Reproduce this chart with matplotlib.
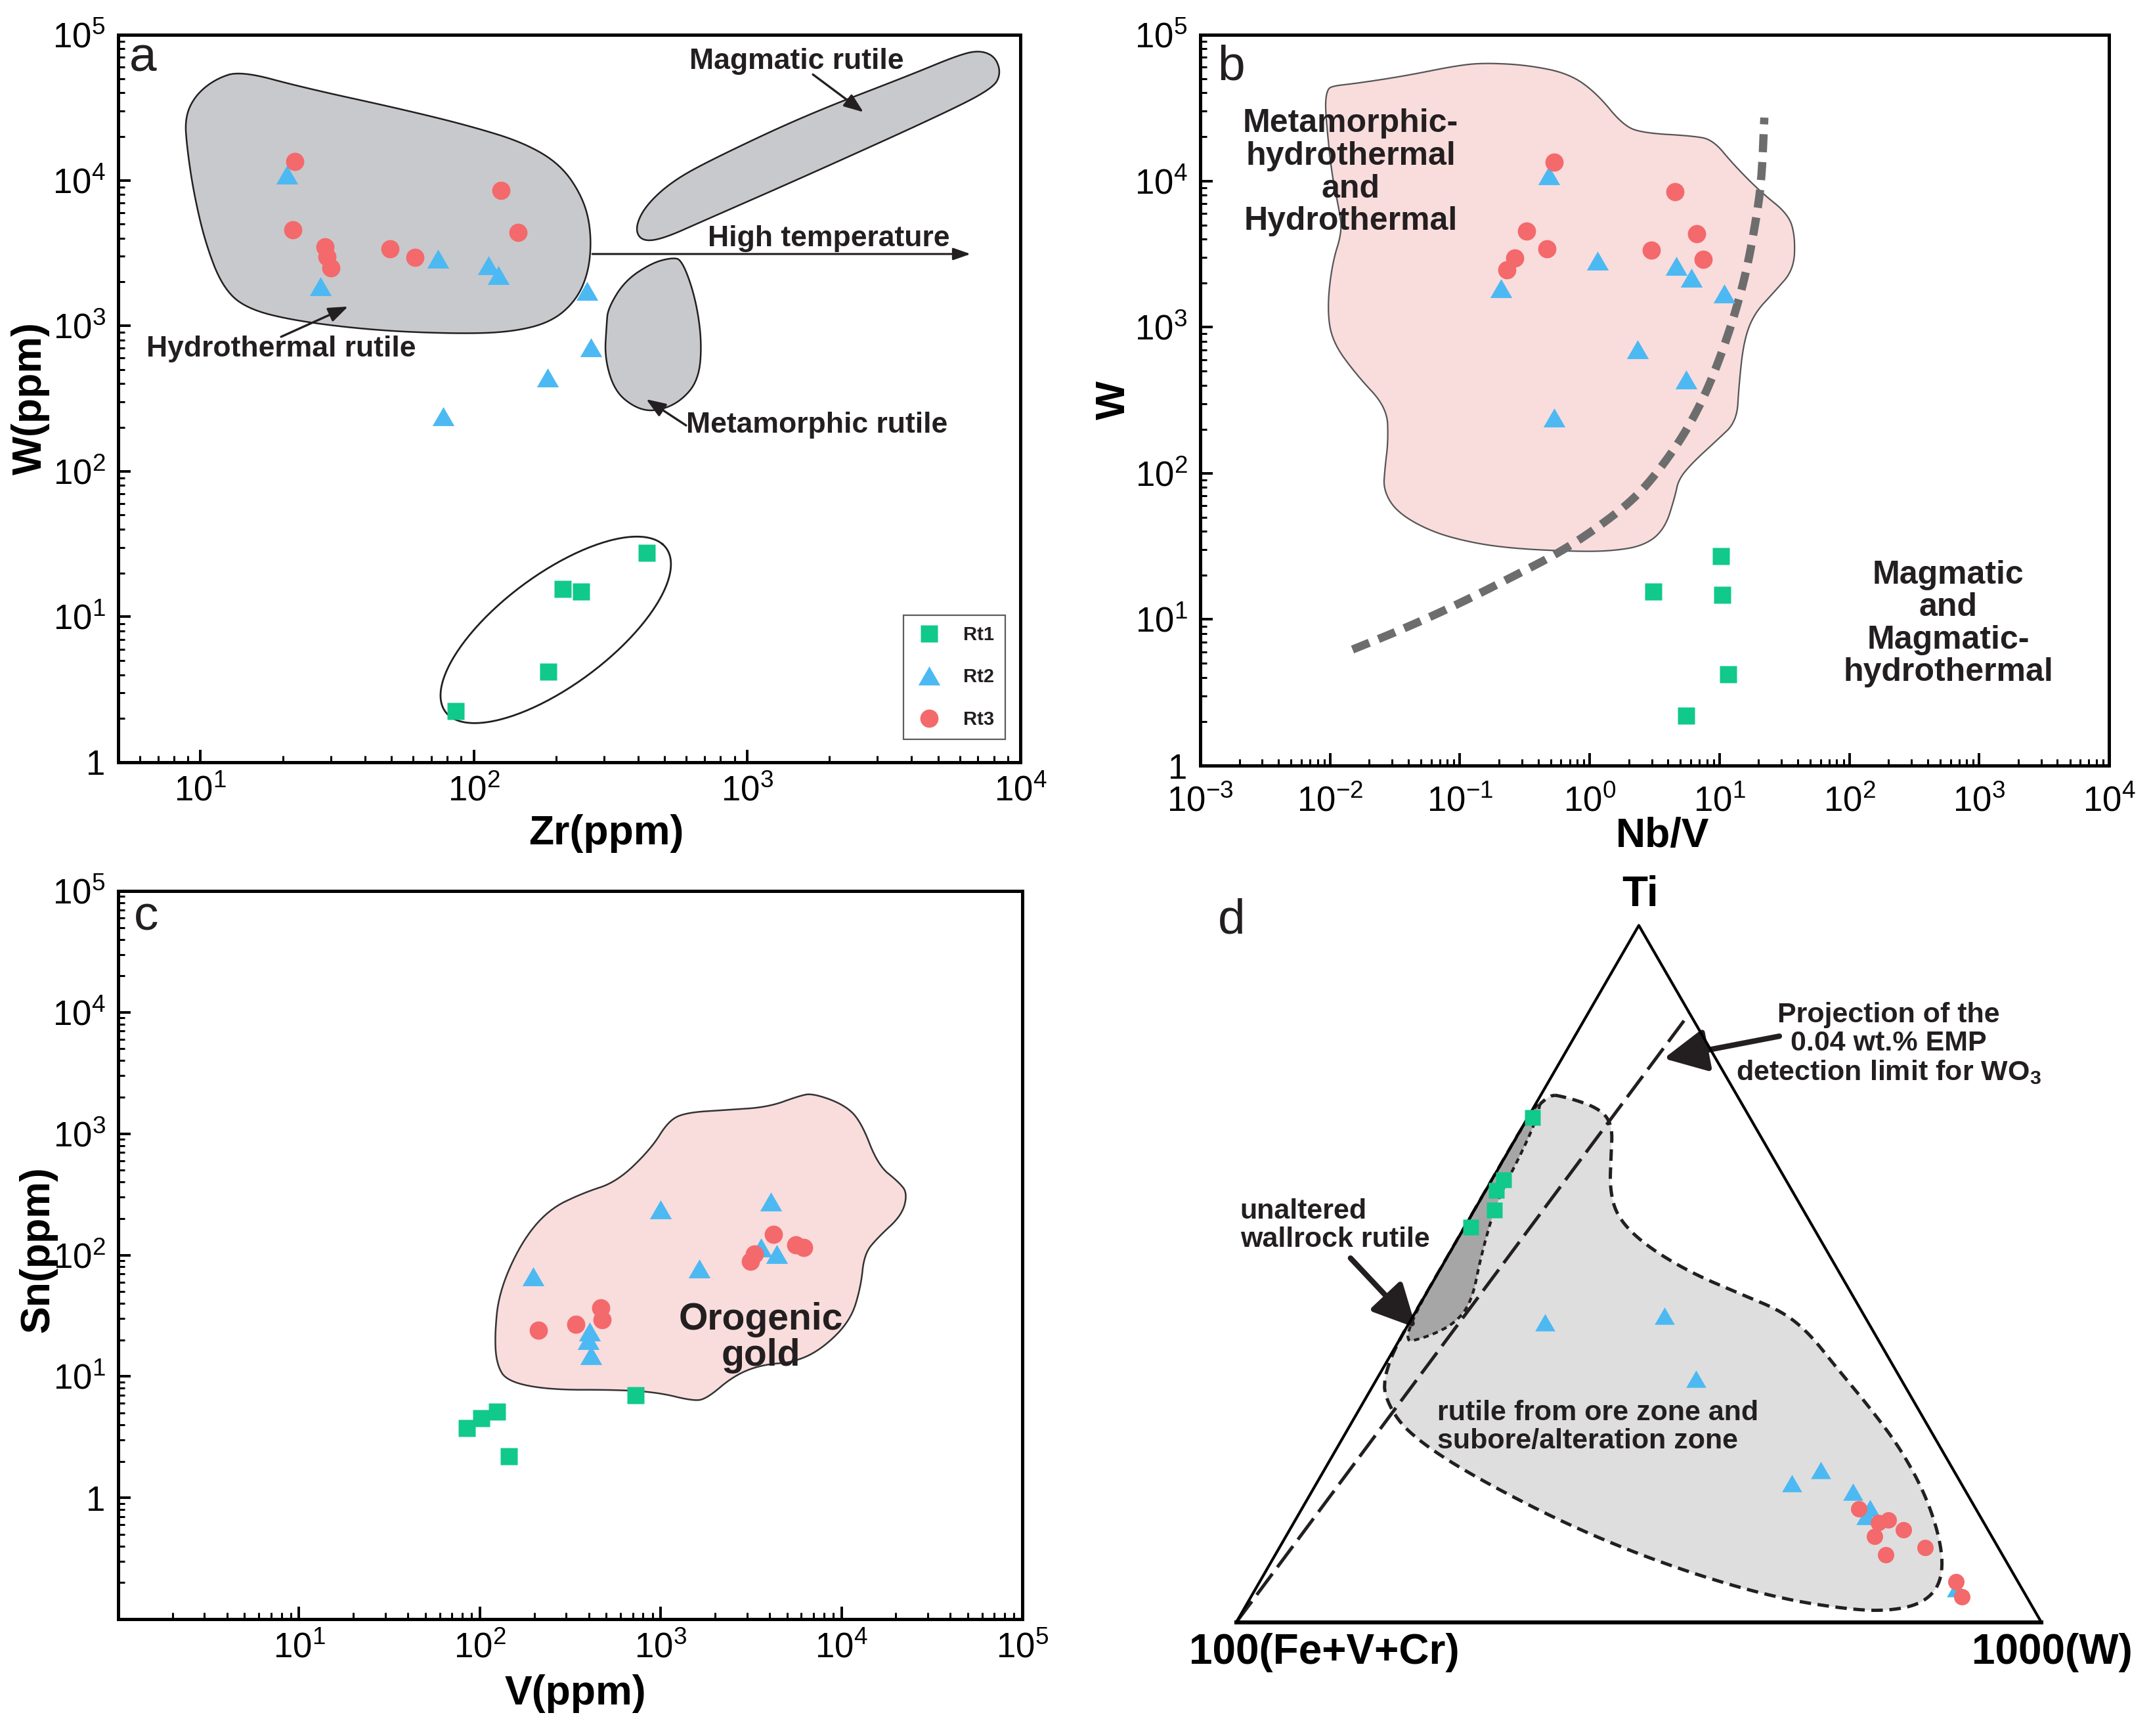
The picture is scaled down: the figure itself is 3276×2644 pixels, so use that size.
import numpy as np
import matplotlib
matplotlib.use('Agg')
import matplotlib.pyplot as plt
from matplotlib.ticker import LogLocator, FuncFormatter, NullFormatter

plt.rcParams['font.family'] = ['Liberation Sans', 'DejaVu Sans']
plt.rcParams['mathtext.fontset'] = 'custom'
plt.rcParams['mathtext.rm'] = 'Liberation Sans'
plt.rcParams['mathtext.bf'] = 'Liberation Sans:bold'
plt.rcParams['mathtext.it'] = 'Liberation Sans:italic'

# ---------------- data ----------------
# (a) Zr vs W
zr_rt1 = [430, 211, 247, 187, 86]
w_rt1_a = [27.4, 15.6, 14.9, 4.2, 2.25]
zr_rt2 = [20.7, 27.4, 74, 113, 123, 259, 268, 186, 77.5]
w_rt2_a = [10900, 1870, 2890, 2600, 2220, 1740, 713, 441, 239]
zr_rt3 = [22.1, 21.8, 28.5, 29.1, 30.0, 49.3, 60.8, 126, 145]
w_rt3_a = [13460, 4550, 3475, 2995, 2490, 3380, 2940, 8470, 4395]

# (b) Nb/V vs W
nbv_rt1 = [10.3, 3.08, 10.5, 11.7, 5.52]
w_rt1_b = [27, 15.5, 14.7, 4.2, 2.2]
nbv_rt2 = [0.484, 0.207, 1.15, 4.66, 6.08, 10.9, 2.33, 5.52, 0.533]
w_rt2_b = [10870, 1840, 2840, 2630, 2170, 1700, 708, 438, 240]
nbv_rt3 = [0.533, 0.328, 0.467, 0.264, 0.231, 4.54, 6.62, 2.97, 7.48]
w_rt3_b = [13400, 4520, 3420, 2975, 2475, 8450, 4360, 3360, 2900]

# (c) V vs Sn
v_rt1 = [85, 102, 125, 145, 726]
sn_rt1 = [3.76, 4.5, 5.15, 2.2, 7.0]
v_rt2 = [197, 995, 1640, 4060, 3600, 4400, 404, 397, 411]
sn_rt2 = [67, 237, 77, 277, 116, 102, 23.4, 20, 15]
v_rt3 = [211, 339, 465, 473, 3130, 3300, 4210, 5570, 6180]
sn_rt3 = [23.9, 26.8, 36.8, 29.5, 89, 102, 148, 121, 115]

# (d) ternary fractions: Ti, 1000W (rest = 100(Fe+V+Cr))
ti_rt1 = [0.724, 0.635, 0.620, 0.592, 0.567]
w_rt1_d = [0.006, 0.015, 0.013, 0.025, 0.008]
ti_rt2 = [0.4305, 0.440, 0.3495, 0.200, 0.219, 0.1875, 0.1644, 0.1525, 0.049]
w_rt2_d = [0.168, 0.312, 0.396, 0.590, 0.6165, 0.672, 0.705, 0.706, 0.870]
ti_rt3 = [0.163, 0.143, 0.147, 0.1326, 0.1231, 0.0969, 0.1072, 0.0588, 0.0365]
w_rt3_d = [0.6915, 0.7265, 0.7365, 0.7627, 0.731, 0.7585, 0.802, 0.8646, 0.8826]

# field outlines (log10 units for a-c)
hydro_logzr = [0.943, 0.980, 1.054, 1.147, 1.373, 1.742, 1.988, 2.184, 2.319, 2.400, 2.430, 2.423,
               2.376, 2.283, 2.135, 1.939, 1.644, 1.349, 1.165, 1.079, 1.017, 0.975, 0.951]
hydro_logw = [4.429, 4.581, 4.695, 4.752, 4.638, 4.486, 4.372, 4.258, 4.106, 3.879, 3.651, 3.385,
              3.176, 3.024, 2.956, 2.945, 2.967, 3.032, 3.119, 3.271, 3.575, 3.916, 4.220]
mag_logzr = [2.590, 2.627, 2.725, 2.872, 3.216, 3.585, 3.781, 3.855, 3.909, 3.929, 3.899, 3.708,
             3.216, 2.848, 2.688, 2.614]
mag_logw = [3.670, 3.822, 3.992, 4.144, 4.448, 4.714, 4.866, 4.892, 4.847, 4.733, 4.630, 4.448,
            4.030, 3.727, 3.594, 3.582]
meta_logzr = [2.491, 2.553, 2.651, 2.725, 2.762, 2.811, 2.835, 2.823, 2.754, 2.663, 2.590, 2.516, 2.479, 2.486]
meta_logw = [3.119, 3.309, 3.431, 3.468, 3.453, 3.195, 2.891, 2.626, 2.474, 2.409, 2.436, 2.550, 2.778, 3.005]

pinkb_lognbv = [-2.022, -1.985, -1.800, -1.430, -1.007, -0.796, -0.479, -0.162, 0.050, 0.261, 0.420,
                0.790, 0.948, 1.107, 1.318, 1.530, 1.582, 1.572, 1.424, 1.265, 1.186, 1.149, 1.133,
                0.975, 0.790, 0.684, 0.658, 0.578, 0.420, 0.155, -0.162, -0.585, -0.902, -1.219,
                -1.483, -1.589, -1.578, -1.552, -1.562, -1.800, -1.985, -2.022, -1.985, -1.906,
                -1.932, -1.985, -2.022, -2.038]
pinkb_logw = [4.622, 4.649, 4.667, 4.717, 4.792, 4.807, 4.792, 4.735, 4.603, 4.376, 4.327,
              4.308, 4.282, 4.112, 3.923, 3.772, 3.621, 3.394, 3.243, 3.091, 2.903, 2.600, 2.355,
              2.222, 2.071, 1.958, 1.844, 1.618, 1.504, 1.466, 1.466, 1.485, 1.523, 1.599,
              1.731, 1.882, 2.033, 2.222, 2.449, 2.676, 2.903, 3.129, 3.432, 3.658,
              3.810, 4.036, 4.339, 4.528]
curve_lognbv = [-1.827, -1.430, -1.007, -0.585, -0.215, 0.103, 0.367, 0.578, 0.763, 0.922, 1.080,
                1.202, 1.281, 1.323, 1.345]
curve_logw = [0.794, 0.937, 1.107, 1.296, 1.466, 1.655, 1.844, 2.071, 2.317, 2.600, 2.978,
              3.356, 3.734, 3.998, 4.433]

pinkc_logv = [2.105, 2.227, 2.379, 2.569, 2.758, 2.948, 3.043, 3.138, 3.366, 3.594, 3.765, 3.841,
              4.012, 4.107, 4.202, 4.316, 4.365, 4.335, 4.202, 4.126, 4.107, 4.050, 3.898, 3.746,
              3.556, 3.404, 3.252, 3.176, 2.986, 2.758, 2.379, 2.151, 2.094, 2.082]
pinkc_logsn = [1.689, 2.100, 2.374, 2.511, 2.603, 2.877, 3.105, 3.174, 3.196, 3.219, 3.311, 3.333,
               3.242, 3.105, 2.740, 2.603, 2.511, 2.329, 2.146, 2.009, 1.735, 1.461, 1.233, 1.119,
               1.096, 1.005, 0.813, 0.799, 0.868, 0.890, 0.890, 0.959, 1.096, 1.324]

light_ti = [0.760, 0.752, 0.736, 0.7125, 0.669, 0.621, 0.581, 0.542, 0.502, 0.470, 0.446, 0.415,
            0.367, 0.311, 0.248, 0.176, 0.105, 0.057, 0.029, 0.0175, 0.0175, 0.035, 0.077, 0.133,
            0.200, 0.252, 0.2955, 0.355, 0.49, 0.62]
light_w = [0.0, 0.040, 0.085, 0.111, 0.131, 0.1535, 0.183, 0.236, 0.313, 0.394, 0.4555, 0.504,
           0.561, 0.6295, 0.702, 0.771, 0.8246, 0.847, 0.840, 0.809, 0.760, 0.653, 0.509, 0.358,
           0.210, 0.110, 0.047, 0.0, 0.0, 0.0]
dark_ti = [0.760, 0.724, 0.669, 0.605, 0.526, 0.462, 0.4305, 0.4106, 0.3987, 0.58]
dark_w = [0.0, 0.012, 0.018, 0.021, 0.041, 0.062, 0.058, 0.035, 0.0, 0.0]
limit_ti = [0.0, 0.874]
limit_w = [0.0, 0.126]

# ---------------- styles ----------------
TXT = '#231f20'
C1, C2, C3 = '#10c98a', '#4cb9f3', '#f4696b'
TRI = [(0, 0.866), (-1, -0.866), (1, -0.866)]


def chaikin(x, y, n=3, closed=True):
    p = np.column_stack([x, y]).astype(float)
    for _ in range(n):
        if closed:
            q = np.roll(p, -1, axis=0)
            a, b = 0.75 * p + 0.25 * q, 0.25 * p + 0.75 * q
            p = np.empty((2 * len(a), 2))
            p[0::2], p[1::2] = a, b
        else:
            a = 0.75 * p[:-1] + 0.25 * p[1:]
            b = 0.25 * p[:-1] + 0.75 * p[1:]
            mid = np.empty((2 * len(a), 2))
            mid[0::2], mid[1::2] = a, b
            p = np.vstack([p[:1], mid, p[-1:]])
    return p[:, 0], p[:, 1]


def style_log(ax, xfmt, yfmt, xpad=7):
    ax.set_xscale('log')
    ax.set_yscale('log')
    for axis, fmt in ((ax.xaxis, xfmt), (ax.yaxis, yfmt)):
        axis.set_major_locator(LogLocator(base=10, numticks=20))
        axis.set_minor_locator(LogLocator(base=10, subs=np.arange(2, 10), numticks=200))
        axis.set_major_formatter(FuncFormatter(fmt))
        axis.set_minor_formatter(NullFormatter())
    ax.tick_params(which='both', direction='in', top=False, right=False, labelsize=19, colors='black')
    ax.tick_params(which='major', length=7, width=1.4, pad=7)
    ax.tick_params(axis='x', which='major', pad=xpad)
    ax.tick_params(which='minor', length=3.5, width=1.1)
    for s in ax.spines.values():
        s.set_linewidth(1.8)


def lab_all(v, pos):
    k = int(round(np.log10(v)))
    return r'$10^{%d}$' % k


def lab_one(v, pos):
    k = int(round(np.log10(v)))
    if k < 0:
        return ''
    return '1' if k == 0 else r'$10^{%d}$' % k


def lab_noone(v, pos):
    k = int(round(np.log10(v)))
    return '' if k <= 0 else r'$10^{%d}$' % k


def axlabels(ax, xl, xpos, yl, ypos):
    ax.set_xlabel(xl, fontsize=22.5, fontweight='bold')
    ax.set_ylabel(yl, fontsize=22.5, fontweight='bold')
    ax.xaxis.set_label_coords(*xpos)
    ax.yaxis.set_label_coords(*ypos)
    ax.xaxis.label.set_va('center')
    ax.yaxis.label.set_va('center')


def arrow(ax, tail, head, lw=1.2, ms=20, hl=0.45, hw=0.17):
    ax.annotate('', xy=head, xytext=tail,
                arrowprops=dict(arrowstyle='-|>,head_length=%g,head_width=%g' % (hl, hw),
                                lw=lw, color=TXT, mutation_scale=ms, shrinkA=0, shrinkB=0))


def points(ax, x1, y1, x2, y2, x3, y3, s=(9.7, 12, 10)):
    ax.plot(x1, y1, 's', ms=s[0], color=C1, mec='none', label='Rt1', zorder=5)
    ax.plot(x2, y2, marker=TRI, ls='none', ms=s[1], color=C2, mec='none', label='Rt2', zorder=5)
    ax.plot(x3, y3, 'o', ms=s[2], color=C3, mec='none', label='Rt3', zorder=6)


fig = plt.figure(figsize=(16.38, 13.22), dpi=200)

# ---------------- (a) ----------------
ax = fig.add_axes([0.05495, 0.5609, 0.4194, 0.4191])
style_log(ax, lab_noone, lab_one)
ax.set_xlim(5, 1e4)
ax.set_ylim(1, 1e5)
for lx, ly in ((hydro_logzr, hydro_logw), (mag_logzr, mag_logw), (meta_logzr, meta_logw)):
    sx, sy = chaikin(lx, ly, 3)
    ax.fill(10 ** sx, 10 ** sy, fc='#c8c9cc', ec=TXT, lw=0.9, zorder=1)
t = np.linspace(0, 2 * np.pi, 200)
ex = 2.30 + 0.39 * np.cos(t) + 0.16 * np.sin(t)
ey = 0.91 + 0.59 * np.cos(t) - 0.25 * np.sin(t)
ax.plot(10 ** ex, 10 ** ey, color=TXT, lw=1.0, zorder=2)
points(ax, zr_rt1, w_rt1_a, zr_rt2, w_rt2_a, zr_rt3, w_rt3_a)
kw = dict(fontsize=16, fontweight='bold', color=TXT, ha='center', va='center')
ax.text(10 ** 3.181, 10 ** 4.815, 'Magmatic rutile', **kw)
arrow(ax, (10 ** 3.241, 10 ** 4.727), (10 ** 3.426, 10 ** 4.468))
ax.text(10 ** 3.299, 10 ** 3.60, 'High temperature', **kw)
arrow(ax, (10 ** 2.434, 10 ** 3.493), (10 ** 3.818, 10 ** 3.493), lw=1.1, hl=0.4, hw=0.14)
ax.text(10 ** 1.295, 10 ** 2.841, 'Hydrothermal rutile', **kw)
arrow(ax, (10 ** 1.295, 10 ** 2.924), (10 ** 1.540, 10 ** 3.132))
ax.text(10 ** 3.255, 10 ** 2.315, 'Metamorphic rutile', **kw)
arrow(ax, (10 ** 2.777, 10 ** 2.315), (10 ** 2.631, 10 ** 2.495))
ax.text(0.0124, 0.950, 'a', transform=ax.transAxes, fontsize=27, color=TXT, ha='left', va='baseline')
leg = ax.legend(loc='lower right', bbox_to_anchor=(0.983, 0.0316), prop={'weight': 'bold', 'size': 10.5},
                frameon=True, fancybox=False, edgecolor='#333333', borderpad=0.55, labelspacing=1.25,
                handlelength=1.6, handletextpad=1.0, borderaxespad=0, labelcolor=TXT)
leg.get_frame().set_linewidth(0.8)
axlabels(ax, 'Zr(ppm)', (0.541, -0.098), 'W(ppm)', (-0.0975, 0.50))

# ---------------- (b) ----------------
ax = fig.add_axes([0.5580, 0.5590, 0.4225, 0.4210])
style_log(ax, lab_all, lab_one, xpad=11)
ax.set_xlim(1e-3, 1e4)
ax.set_ylim(1, 1e5)
sx, sy = chaikin(pinkb_lognbv, pinkb_logw, 3)
ax.fill(10 ** sx, 10 ** sy, fc='#f9dcdc', ec='#555555', lw=0.8, zorder=1)
cx, cy = chaikin(curve_lognbv, curve_logw, 3, closed=False)
ax.plot(10 ** cx, 10 ** cy, color='#6d6d6d', lw=4.5, ls=(0, (2.2, 1.2)), zorder=3)
points(ax, nbv_rt1, w_rt1_b, nbv_rt2, w_rt2_b, nbv_rt3, w_rt3_b)
kw = dict(fontsize=18, fontweight='bold', color=TXT, ha='center', va='center', linespacing=1.1)
ax.text(10 ** -1.842, 10 ** 4.057, 'Metamorphic-\nhydrothermal\nand\nHydrothermal', **kw)
ax.text(10 ** 2.761, 10 ** 0.970, 'Magmatic\nand\nMagmatic-\nhydrothermal', **kw)
ax.text(0.019, 0.938, 'b', transform=ax.transAxes, fontsize=27, color=TXT, ha='left', va='baseline')
axlabels(ax, 'Nb/V', (0.509, -0.097), 'W', (-0.0947, 0.4996))

# ---------------- (c) ----------------
ax = fig.add_axes([0.05495, 0.06732, 0.4203, 0.41944])
style_log(ax, lab_noone, lab_one)
ax.set_xlim(1, 1e5)
ax.set_ylim(0.1, 1e5)
sx, sy = chaikin(pinkc_logv, pinkc_logsn, 3)
ax.fill(10 ** sx, 10 ** sy, fc='#f9dcdc', ec='#333333', lw=0.9, zorder=1)
points(ax, v_rt1, sn_rt1, v_rt2, sn_rt2, v_rt3, sn_rt3)
ax.text(10 ** 3.554, 10 ** 1.319, 'Orogenic\ngold', fontsize=20.5, fontweight='bold', color=TXT,
        ha='center', va='center', linespacing=1.04)
ax.text(0.0174, 0.946, 'c', transform=ax.transAxes, fontsize=27, color=TXT, ha='left', va='baseline')
axlabels(ax, 'V(ppm)', (0.506, -0.102), 'Sn(ppm)', (-0.089, 0.508))

# ---------------- (d) ternary ----------------
ax = fig.add_axes([0.5189, 0.0, 0.4811, 0.50076])
ax.set_xlim(-0.149, 1.136)
ax.set_ylim(-0.141, 0.939)
ax.axis('off')
H = np.sqrt(3) / 2


def tern(ti, w):
    ti, w = np.asarray(ti, float), np.asarray(w, float)
    return w + ti / 2, ti * H


lx, ly = tern(light_ti, light_w)
lx, ly = chaikin(lx, ly, 3)
ax.fill(lx, ly, fc='#dedede', ec='none', zorder=1)
ax.plot(np.append(lx, lx[0]), np.append(ly, ly[0]), color=TXT, lw=1.8, ls=(0, (3.5, 2)), zorder=2)
dx, dy = tern(dark_ti, dark_w)
dx, dy = chaikin(dx, dy, 3)
ax.fill(dx, dy, fc='#a6a6a6', ec='none', zorder=2)
ax.plot(np.append(dx, dx[0]), np.append(dy, dy[0]), color=TXT, lw=1.5, ls=(0, (2, 1.6)), zorder=3)
px, py = tern(limit_ti, limit_w)
ax.plot(px, py, color=TXT, lw=1.8, ls=(0, (8, 2.5)), zorder=3)
ax.plot([0, 0.5, 1], [0, H, 0], color='black', lw=1.5, zorder=4)
ax.plot([0, 1], [0, 0], color='black', lw=2.2, zorder=4)
x1, y1 = tern(ti_rt1, w_rt1_d)
x2, y2 = tern(ti_rt2, w_rt2_d)
x3, y3 = tern(ti_rt3, w_rt3_d)
points(ax, x1, y1, x2, y2, x3, y3, s=(8.5, 11, 9))
kw = dict(fontsize=23, fontweight='bold', color='black', ha='center', va='center')
ax.text(0.502, 0.904, 'Ti', **kw)
ax.text(0.109, -0.0375, '100(Fe+V+Cr)', **kw)
ax.text(1.013, -0.0375, '1000(W)', **kw)
kw = dict(fontsize=15.5, fontweight='bold', color=TXT, va='center', linespacing=1.1)
ax.text(0.810, 0.719, 'Projection of the\n0.04 wt.% EMP\ndetection limit for WO$_\\mathbf{3}$',
        ha='center', **kw)
arrow(ax, (0.6745, 0.7284), (0.531, 0.7007), lw=3, ms=40, hl=0.5, hw=0.25)
ax.text(0.005, 0.4935, 'unaltered\nwallrock rutile', ha='left', **kw)
arrow(ax, (0.142, 0.4527), (0.2235, 0.366), lw=3, ms=40, hl=0.5, hw=0.25)
ax.text(0.2496, 0.243, 'rutile from ore zone and\nsubore/alteration zone', ha='left', **kw)
ax.text(-0.023, 0.856, 'd', fontsize=27, color=TXT, ha='left', va='baseline')

fig.savefig('out.png', dpi=200, facecolor='white')
